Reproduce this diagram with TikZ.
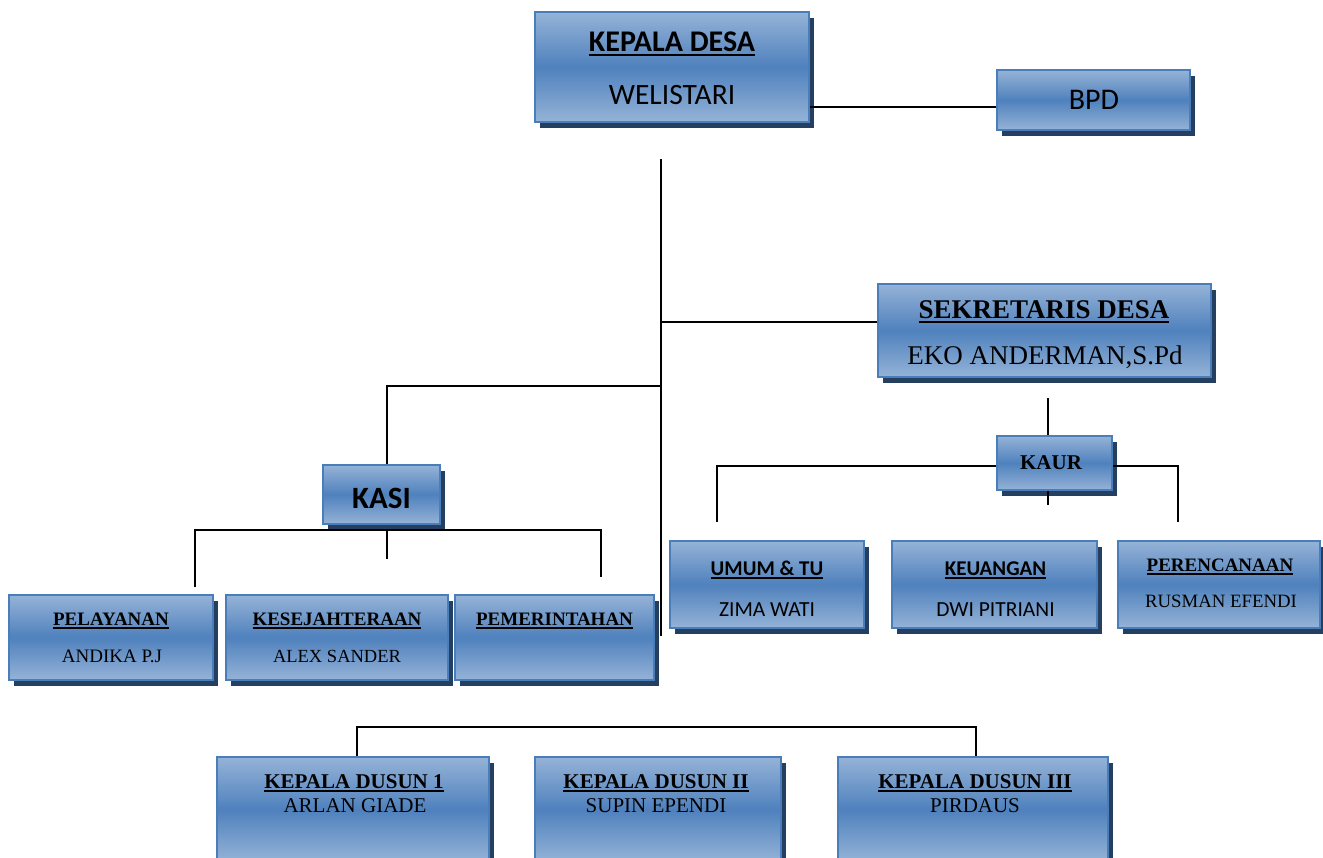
\documentclass[tikz,border=0pt]{standalone}
\usepackage{fontspec}
\setmainfont{Liberation Serif}
\newfontfamily\calib{Carlito}
\usetikzlibrary{shadows}
\definecolor{boxlight}{HTML}{95B3D7}
\definecolor{boxdark}{HTML}{4F81BD}
\definecolor{boxline}{HTML}{4A7EBB}
\definecolor{boxshadow}{HTML}{243F60}
\newcommand\myul[1]{\setbox0=\hbox{#1}\vtop{\copy0\kern1.5pt\hrule height 2.5pt}}
\tikzset{
  orgbox/.style={rectangle, draw=boxline, line width=2pt, inner sep=0pt,
    top color=boxlight, bottom color=boxlight, middle color=boxdark,
    drop shadow={fill=boxshadow, opacity=1, shadow xshift=5pt, shadow yshift=-6pt}},
  conn/.style={line width=2.4pt, black},
  txt/.style={anchor=base, inner sep=0pt, text=black},
}
\begin{document}
\begin{tikzpicture}[x=1pt, y=-1pt]
\useasboundingbox (0,0) rectangle (1323,858);
% boxes
\node[orgbox, minimum width=274pt, minimum height=110pt] (kd) at (672,67) {};
\node[orgbox, minimum width=193pt, minimum height=60pt] (bpd) at (1093.5,100) {};
\node[orgbox, minimum width=333pt, minimum height=93pt] (sek) at (1044.5,330.5) {};
\node[orgbox, minimum width=115pt, minimum height=54pt] (kaur) at (1054.5,463) {};
\node[orgbox, minimum width=117pt, minimum height=59pt] (kasi) at (381.5,494.5) {};
\node[orgbox, minimum width=204pt, minimum height=85pt] (pel) at (111,637.5) {};
\node[orgbox, minimum width=222pt, minimum height=85pt] (kes) at (337,637.5) {};
\node[orgbox, minimum width=199pt, minimum height=85pt] (pem) at (554.5,637.5) {};
\node[orgbox, minimum width=194pt, minimum height=87pt] (umum) at (767,584.5) {};
\node[orgbox, minimum width=205pt, minimum height=87pt] (keu) at (994.5,584.5) {};
\node[orgbox, minimum width=202pt, minimum height=87pt] (per) at (1219,584.5) {};
\node[orgbox, minimum width=272pt, minimum height=105pt] (d1) at (353,809.5) {};
\node[orgbox, minimum width=246pt, minimum height=105pt] (d2) at (658,809.5) {};
\node[orgbox, minimum width=270pt, minimum height=105pt] (d3) at (973,809.5) {};
% texts
\node[txt, font=\calib\bfseries\fontsize{30}{32}\selectfont] (t-kd) at (672,52) {\myul{KEPALA DESA}};
\node[txt, font=\calib\fontsize{29.5}{32}\selectfont] (n-kd) at (672,105) {WELISTARI};
\node[txt, font=\calib\fontsize{30}{32}\selectfont] (t-bpd) at (1094,110) {BPD};
\node[txt, font=\bfseries\fontsize{27}{29}\selectfont] (t-sek) at (1044,319) {\myul{SEKRETARIS DESA}};
\node[txt, font=\fontsize{27}{29}\selectfont] (n-sek) at (1045,365) {EKO ANDERMAN,S.Pd};
\node[txt, font=\bfseries\fontsize{21}{23}\selectfont] (t-kaur) at (1051,469) {KAUR};
\node[txt, font=\calib\bfseries\fontsize{31}{33}\selectfont] (t-kasi) at (381.5,508) {KASI};
\node[txt, font=\bfseries\fontsize{19}{21}\selectfont] (t-pel) at (111,625) {\myul{PELAYANAN}};
\node[txt, font=\fontsize{19}{21}\selectfont] (n-pel) at (112,662) {ANDIKA P.J};
\node[txt, font=\bfseries\fontsize{19}{21}\selectfont] (t-kes) at (337,625) {\myul{KESEJAHTERAAN}};
\node[txt, font=\fontsize{18.5}{21}\selectfont] (n-kes) at (337,662) {ALEX SANDER};
\node[txt, font=\bfseries\fontsize{19}{21}\selectfont] (t-pem) at (554.5,625) {\myul{PEMERINTAHAN}};
\node[txt, font=\calib\bfseries\fontsize{21}{23}\selectfont] (t-umum) at (767,575) {\myul{UMUM \& TU}};
\node[txt, font=\calib\fontsize{21.5}{23}\selectfont] (n-umum) at (767,616) {ZIMA WATI};
\node[txt, font=\calib\bfseries\fontsize{21}{23}\selectfont] (t-keu) at (995.5,575) {\myul{KEUANGAN}};
\node[txt, font=\calib\fontsize{21.5}{23}\selectfont] (n-keu) at (995.5,616) {DWI PITRIANI};
\node[txt, font=\bfseries\fontsize{19}{21}\selectfont] (t-per) at (1220,571) {\myul{PERENCANAAN}};
\node[txt, font=\fontsize{18.8}{21}\selectfont] (n-per) at (1221,607) {RUSMAN EFENDI};
\node[txt, font=\bfseries\fontsize{21}{23}\selectfont] (t-d1) at (354,788) {\myul{KEPALA DUSUN 1}};
\node[txt, font=\fontsize{21}{23}\selectfont] (n-d1) at (355,812) {ARLAN GIADE};
\node[txt, font=\bfseries\fontsize{21}{23}\selectfont] (t-d2) at (656,788) {\myul{KEPALA DUSUN II}};
\node[txt, font=\fontsize{21}{23}\selectfont] (n-d2) at (656,812) {SUPIN EPENDI};
\node[txt, font=\bfseries\fontsize{21}{23}\selectfont] (t-d3) at (975,788) {\myul{KEPALA DUSUN III}};
\node[txt, font=\fontsize{21}{23}\selectfont] (n-d3) at (975,812) {PIRDAUS};
% connector coordinates
\coordinate (trTop) at (661,159);
\coordinate (trBot) at (661,636);
\coordinate (jSek) at (661,322);
\coordinate (jKasi) at (661,386);
\coordinate (kasiL) at (195,587);
\coordinate (kasiM) at (387,559);
\coordinate (kasiR) at (601,577);
\coordinate (sekTop) at (1048,398);
\coordinate (kaurLow) at (1048,505);
\coordinate (kaurL) at (717,522);
\coordinate (kaurR) at (1178,522);
% connectors
\draw[conn] (kd.east |- 0,107) -- (bpd.west |- 0,107);
\draw[conn, line width=2.8pt] (trTop) -- (trBot);
\draw[conn] (jSek) -- (sek.west |- jSek);
\draw[conn] (jKasi) -- (387,386) -- (387,0 |- kasi.north);
\draw[conn] (kasiL) -- (195,530) -- (601,530) -- (kasiR);
\draw[conn] (387,530) -- (kasiM);
\draw[conn] (sekTop) -- (1048,0 |- kaur.north);
\draw[conn] (1048,0 |- kaur.south) -- (kaurLow);
\draw[conn] (kaur.west |- 0,466) -- (717,466) -- (kaurL);
\draw[conn] (kaur.east |- 0,466) -- (1178,466) -- (kaurR);
\draw[conn] (357,0 |- d1.north) -- (357,727) -- (976,727) -- (976,0 |- d3.north);
\end{tikzpicture}
\end{document}
